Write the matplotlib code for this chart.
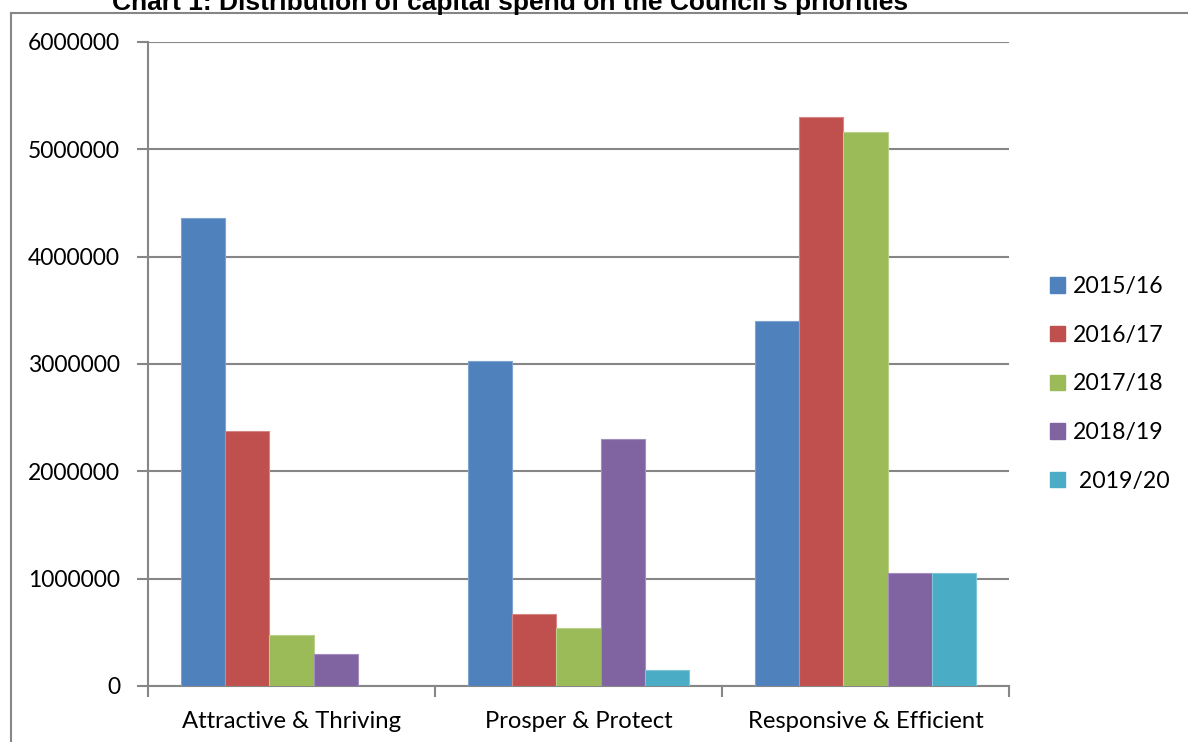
import matplotlib
matplotlib.use("Agg")
import matplotlib.pyplot as plt
from matplotlib.patches import Patch
from matplotlib.lines import Line2D
import numpy as np

categories = ["Attractive & Thriving", "Prosper & Protect", "Responsive & Efficient"]
series_names = ["2015/16", "2016/17", "2017/18", "2018/19", " 2019/20"]
v2015 = [4360000, 3025000, 3405000]
v2016 = [2378000, 671000, 5300000]
v2017 = [475000, 543000, 5165000]
v2018 = [298000, 2298000, 1050000]
v2019 = [0, 146000, 1050000]
colors = ["#4F81BD", "#C0504D", "#9BBB59", "#8064A2", "#4BACC6"]
edges = ["#7FA3D1", "#D68683", "#BBD18B", "#A38DBE", "#7DC5D8"]
title = "Chart 1: Distribution of capital spend on the Council's priorities"
yticks = [0, 1000000, 2000000, 3000000, 4000000, 5000000, 6000000]

W, H = 1188, 742
fig = plt.figure(figsize=(W / 100, H / 100), dpi=100)
ax = fig.add_axes([148 / W, (H - 686) / H, 861 / W, 644 / H])

font = "Lato"
grid_c = "#868686"

data = [v2015, v2016, v2017, v2018, v2019]
x = np.arange(len(categories))
w = 0.1536
for i, vals in enumerate(data):
    ax.bar(x + (i - 2) * w, vals, width=w, color=colors[i], edgecolor=edges[i],
           linewidth=0.8, zorder=3)

ax.set_xlim(-0.5, 2.5)
ax.set_ylim(0, 6000000)
ax.set_yticks(yticks)
ax.set_yticklabels([str(v) for v in yticks], fontname=font, fontsize=16.5)
ax.yaxis.grid(True, color=grid_c, linewidth=1.5, zorder=0)
ax.set_axisbelow(True)
ax.tick_params(axis="y", length=8, width=1.5, color=grid_c, pad=12)
ax.set_xticks(x)
ax.set_xticklabels(categories, fontname=font, fontsize=17.2)
ax.set_xticks([-0.5, 0.5, 1.5, 2.5], minor=True)
ax.tick_params(axis="x", which="major", length=0, pad=18)
ax.tick_params(axis="x", which="minor", length=8, width=1.5, color=grid_c)
for s in ["top", "right"]:
    ax.spines[s].set_visible(False)
for s in ["left", "bottom"]:
    ax.spines[s].set_color(grid_c)
    ax.spines[s].set_linewidth(1.5)

handles = [Patch(facecolor=c, edgecolor=c) for c in colors]
leg = fig.legend(handles, series_names, loc="upper left",
                 bbox_to_anchor=(1050 / W, 1 - 276 / H), frameon=False,
                 prop={"family": font, "size": 16.6}, handlelength=0.65,
                 handleheight=0.65, handletextpad=0.35, labelspacing=1.2,
                 borderpad=0, borderaxespad=0)

fig.text(510 / W, 1 - 10 / H, title, ha="center", va="baseline",
         fontname="Liberation Sans", fontweight="bold", fontsize=19)

fig.add_artist(Line2D([11 / W, 1], [1 - 13 / H, 1 - 13 / H], color=grid_c,
                      linewidth=1.5, transform=fig.transFigure))
fig.add_artist(Line2D([11 / W, 11 / W], [0, 1 - 13 / H], color=grid_c,
                      linewidth=1.5, transform=fig.transFigure))

fig.savefig("out.png", dpi=100)
